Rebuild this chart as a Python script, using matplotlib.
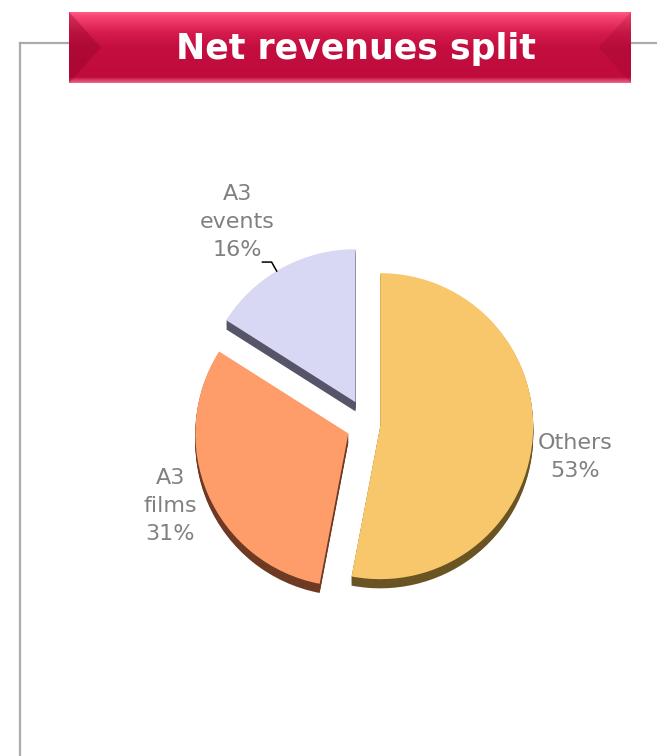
import numpy as np
import matplotlib.pyplot as plt
from matplotlib.colors import LinearSegmentedColormap
from matplotlib.patches import Polygon

# datos del grafico
etiquetas = ['Others', 'A3\nfilms', 'A3\nevents']
porcentajes = [53, 31, 16]
colores = ['#F9C76B', '#FE9D6A', '#D8D8F4']
laterales = ['#6B5424', '#6E3A24', '#555468']
separacion = [0.08, 0.14, 0.17]
titulo = 'Net revenues split'

W, H = 657, 756
fig = plt.figure(figsize=(W / 100, H / 100), dpi=100)

# fondo en pixeles: marco gris y cinta del titulo
fondo = fig.add_axes([0, 0, 1, 1])
fondo.set_xlim(0, W)
fondo.set_ylim(H, 0)
fondo.axis('off')
gris = '#ABABAB'
fondo.plot([20, 69], [43, 43], color=gris, lw=1.6)
fondo.plot([631, W], [43, 43], color=gris, lw=1.6)
fondo.plot([20, 20], [43, H], color=gris, lw=1.6)

cinta = LinearSegmentedColormap.from_list('cinta', [
    (0.0, '#FF5A85'), (0.07, '#F5426F'), (0.3, '#D41A4C'),
    (0.5, '#C30E3F'), (0.92, '#C00C3C'), (0.97, '#E0456C'), (1.0, '#E8678A')])
grad = np.linspace(0, 1, 200).reshape(-1, 1)
x0, x1, y0, y1 = 69, 631, 12, 83
fondo.imshow(grad, cmap=cinta, extent=[x0, x1, y1, y0], aspect='auto', zorder=2)
ym = (y0 + y1) / 2
fondo.add_patch(Polygon([[x0, y0], [x0 + 32, ym], [x0, y1]], closed=True,
                        fc='#8A0028', alpha=0.35, lw=0, zorder=3))
fondo.add_patch(Polygon([[x1, y0], [x1 - 32, ym], [x1, y1]], closed=True,
                        fc='#8A0028', alpha=0.2, lw=0, zorder=3))
fondo.text(356, ym + 1, titulo, color='white', fontsize=25,
           fontweight='bold', ha='center', va='center', zorder=4)

# tarta con efecto 3D: capas oscuras debajo y la cara superior encima
r_px = 153
cx, cy = 368, 425
S = 1.6 * r_px
ax = fig.add_axes([(cx - S) / W, (H - cy - S) / H, 2 * S / W, 2 * S / H])
prof = 0.06
for dz in np.linspace(prof, 0.005, 8):
    ax.pie(porcentajes, colors=laterales, startangle=90, counterclock=False,
           explode=separacion, center=(0, -dz), radius=1,
           wedgeprops=dict(linewidth=0))
ax.pie(porcentajes, colors=colores, startangle=90, counterclock=False,
       explode=separacion, center=(0, 0), radius=1,
       wedgeprops=dict(linewidth=0))
ax.set_xlim(-1.6, 1.6)
ax.set_ylim(-1.6, 1.6)
ax.axis('off')

# etiquetas alrededor de la tarta
pos_etiquetas = [(1.353, -0.21), (-1.294, -0.53), (-0.856, 1.33)]
gris_txt = '#808080'
for et, p, (tx, ty) in zip(etiquetas, porcentajes, pos_etiquetas):
    ax.text(tx, ty, f'{et}\n{p}%', color=gris_txt, fontsize=16,
            ha='center', va='center', linespacing=1.5)

# linea guia de A3 events
inicio = 90 - np.cumsum([0] + porcentajes[:-1]) * 3.6
medio = np.radians(inicio - np.array(porcentajes) * 1.8)
ex = separacion[2] * np.cos(medio[2])
ey = separacion[2] * np.sin(medio[2])
punta = (ex + np.cos(np.radians(121)), ey + np.sin(np.radians(121)))
ax.plot([-0.69, -0.63, punta[0]], [1.065, 1.065, punta[1]], color='black', lw=1.1)

fig.savefig('out.png', dpi=100)
